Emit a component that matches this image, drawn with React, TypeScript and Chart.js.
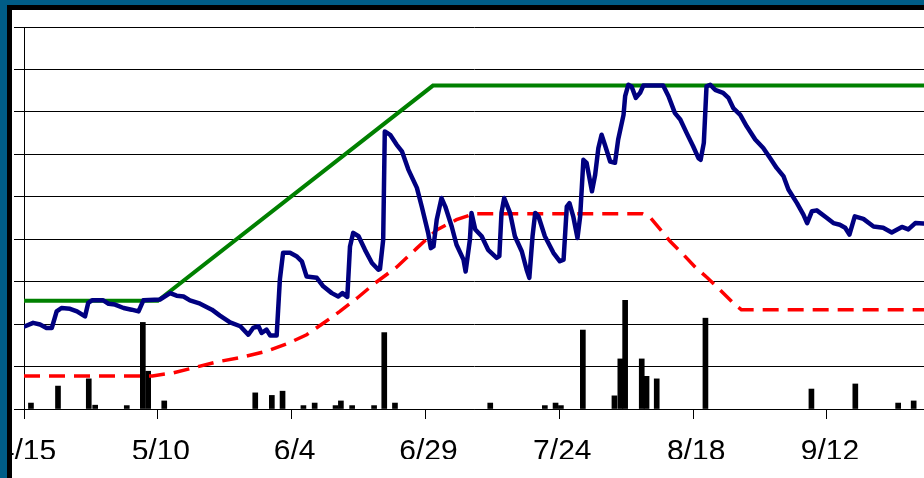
import { useEffect, useRef } from 'react';
import { Chart, registerables } from 'chart.js';

Chart.register(...registerables);

// X axis: days since 4/15
const xTickDays = [0, 25, 50, 75, 100, 125, 150];
const xTickLabels = ['4/15', '5/10', '6/4', '6/29', '7/24', '8/18', '9/12'];
const xMaxDay = 168.13;

// Blue (navy) line
const blueDays = [0.2, 1.7, 3, 4.2, 5.2, 6.1, 7, 8.6, 9.9, 11.4, 12, 12.7, 14.8, 15.8, 17, 18.6, 20.1, 21.4, 22.3, 25.4, 27.3, 28.5, 29.8, 31, 32.9, 35.1, 36.6, 38.5, 40.4, 41.9, 42.8, 43.8, 44.4, 45.3, 46, 47.2, 47.8, 48.4, 49.7, 50.9, 51.9, 52.8, 54.7, 55.9, 57.5, 58.7, 59.5, 60.4, 60.9, 61.5, 62.5, 63.7, 65, 66.2, 66.5, 67.1, 67.4, 68.4, 69.6, 70.6, 71.8, 73.4, 74.3, 75.5, 76, 76.5, 77.1, 78, 78.7, 79.9, 80.8, 82.1, 82.5, 83.3, 83.6, 84.3, 85.5, 86.7, 88.3, 88.8, 89.2, 89.7, 90.8, 91.7, 93, 93.9, 94.4, 95, 95.5, 96.1, 97.3, 98.9, 100.1, 100.8, 101.4, 101.9, 102.6, 103.4, 103.9, 104.5, 105.1, 106.1, 106.7, 107.3, 107.9, 108.5, 109.5, 110.4, 111, 112, 112.3, 112.9, 113.5, 114.3, 115.1, 115.7, 119.4, 120.4, 121.6, 122.6, 123.8, 125, 126, 126.4, 127, 127.5, 128.2, 129.1, 130.6, 131.6, 132.5, 133.8, 135, 136.6, 138.1, 139.4, 140.6, 141.9, 142.8, 144.4, 145.6, 146.3, 147.2, 148.1, 150, 151.2, 152.4, 153.4, 154.2, 155.2, 156.8, 158.7, 160.5, 162.1, 164, 165.2, 166.5, 168, 170];
const blueValues = [19.5, 20.3, 19.9, 19.1, 19.1, 23, 23.8, 23.6, 23, 21.8, 25, 25.6, 25.6, 24.8, 24.6, 23.8, 23.4, 23, 25.6, 25.8, 27.3, 26.7, 26.5, 25.6, 24.8, 23.4, 22, 20.4, 19.5, 17.5, 19.1, 19.5, 17.9, 18.7, 17.3, 17.3, 30.5, 36.8, 36.8, 36, 34.8, 31.2, 30.9, 28.9, 27.3, 26.5, 27.3, 26.4, 38.3, 41.5, 40.7, 37.5, 34.4, 32.8, 33, 39.9, 65.4, 64.6, 62.3, 60.7, 56.4, 52.1, 47.7, 41.5, 37.9, 38.3, 44.6, 49.7, 47.7, 43, 38.7, 35.2, 32.4, 39.9, 46.2, 42.3, 40.7, 37.5, 35.6, 36, 46.2, 49.7, 46.2, 40.7, 37.1, 32.8, 30.9, 40.7, 46.2, 45.4, 40.7, 36.8, 34.8, 35.2, 47.7, 48.5, 45.4, 40.3, 45.4, 58.7, 58, 51.3, 55.2, 61.5, 64.6, 62.3, 58.3, 58, 63.5, 69.3, 73.7, 76.4, 76, 73.3, 74.5, 76.2, 76.2, 73.7, 69.7, 68.2, 65, 61.9, 59.1, 58.7, 62.7, 76, 76.4, 75.2, 74.5, 73.3, 70.9, 69.3, 66.6, 63.5, 61.5, 59.1, 56.8, 54.8, 51.7, 48.5, 45.8, 43.8, 46.6, 46.8, 45, 43.8, 43.4, 42.7, 41.1, 45.4, 44.8, 43, 42.7, 41.6, 42.9, 42.3, 43.8, 43.7, 43.7];

// Green line
const greenDays = [0, 25, 76.4, 175];
const greenValues = [25.5, 25.5, 76.2, 76.2];

// Red dashed line
const redDays = [0, 24, 27.8, 31, 36, 40.4, 45.3, 49.4, 52.8, 55.9, 59, 62.2, 65.5, 69.6, 73.4, 77.1, 80.8, 84, 115.5, 117, 119.2, 120.7, 123.1, 125.4, 127.6, 130, 132.8, 134, 175];
const redValues = [7.8, 7.8, 8.5, 9.5, 11.1, 12.1, 13.6, 15.5, 17.5, 20.2, 23, 26.1, 29.6, 33.4, 37.9, 42.2, 44.6, 46, 46, 45.1, 41.8, 39.5, 36.5, 33.4, 31, 28.1, 24.6, 23.4, 23.4];

// Black bars
const barDays = [1.3, 6.35, 12.1, 13.3, 19.2, 22.2, 23.2, 26.2, 43.2, 46.3, 48.3, 52.2, 54.3, 58.2, 59.2, 61.3, 65.4, 67.3, 69.3, 87.1, 97.3, 99.3, 100.3, 104.4, 110.3, 111.4, 112.3, 115.4, 116.3, 118.2, 127.3, 147.1, 155.3, 163.3, 166.2];
const barValues = [1.4, 5.4, 7.1, 0.9, 0.8, 20.4, 8.9, 1.9, 3.8, 3.2, 4.2, 0.8, 1.4, 0.8, 1.9, 0.8, 0.8, 18.0, 1.4, 1.4, 0.8, 1.4, 0.8, 18.6, 3.1, 11.8, 25.6, 11.8, 7.7, 7.1, 21.4, 4.7, 5.9, 1.4, 1.9];

const pts = (xs: number[], ys: number[]) => xs.map((x, i) => ({ x, y: ys[i] }));

const FONT = "'Liberation Sans', Arial, sans-serif";

export default function App() {
  const ref = useRef<HTMLCanvasElement>(null);

  useEffect(() => {
    const chart = new Chart(ref.current as HTMLCanvasElement, {
      type: 'bar',
      data: {
        datasets: [
          {
            type: 'line',
            label: 'blue',
            data: pts(blueDays, blueValues),
            borderColor: '#000080',
            borderWidth: 4.5,
            pointRadius: 0,
            borderJoinStyle: 'round',
            borderCapStyle: 'round',
            tension: 0,
            order: 0,
          },
          {
            type: 'line',
            label: 'green',
            data: pts(greenDays, greenValues),
            borderColor: '#008000',
            borderWidth: 4,
            pointRadius: 0,
            tension: 0,
            order: 1,
          },
          {
            type: 'line',
            label: 'red',
            data: pts(redDays, redValues),
            borderColor: '#FF0000',
            borderWidth: 3.5,
            borderDash: [16, 9],
            pointRadius: 0,
            tension: 0,
            order: 2,
          },
          {
            type: 'bar',
            label: 'bars',
            data: pts(barDays, barValues),
            backgroundColor: '#000000',
            borderWidth: 0,
            barThickness: 5,
            order: 3,
          },
        ],
      } as any,
      options: {
        responsive: false,
        animation: false,
        events: [],
        layout: { padding: { left: 2, top: 17, right: 0, bottom: 19 } },
        plugins: { legend: { display: false }, tooltip: { enabled: false } },
        scales: {
          x: {
            type: 'linear',
            min: 0,
            max: xMaxDay,
            offset: false,
            bounds: 'data',
            afterBuildTicks: (s: any) => {
              s.ticks = xTickDays.map((v) => ({ value: v }));
            },
            afterFit: (s: any) => {
              s.paddingLeft = 0;
              s.paddingRight = 0;
              s.height = 50;
            },
            grid: { offset: false, drawOnChartArea: false, drawTicks: true, tickLength: 10, color: '#000000', lineWidth: 1 },
            border: { display: true, color: '#000000', width: 1 },
            ticks: {
              callback: (_v: any, i: number) => xTickLabels[i],
              font: { family: FONT, size: 30 },
              color: '#000000',
              padding: 15,
              maxRotation: 0,
              minRotation: 0,
              autoSkip: false,
              labelOffset: 3,
            },
          },
          y: {
            type: 'linear',
            min: 0,
            max: 90,
            afterFit: (s: any) => {
              s.width = 10;
            },
            ticks: { stepSize: 10, display: false },
            grid: { color: '#000000', lineWidth: 1, tickLength: 10, drawTicks: true },
            border: { display: true, color: '#000000', width: 1 },
          },
        },
      } as any,
    });
    return () => chart.destroy();
  }, []);

  return (
    <div
      style={{
        position: 'absolute',
        left: 0,
        top: 0,
        width: 924,
        height: 478,
        overflow: 'hidden',
        background: '#005D87',
      }}
    >
      <div style={{ position: 'absolute', left: 7, top: 5, right: 0, bottom: 0, background: '#000000' }} />
      <div style={{ position: 'absolute', left: 12, top: 10, right: 0, bottom: 0, background: '#ffffff', overflow: 'hidden' }}>
        <canvas ref={ref} width={912} height={468} style={{ display: 'block', width: 912, height: 468 }} />
      </div>
    </div>
  );
}
